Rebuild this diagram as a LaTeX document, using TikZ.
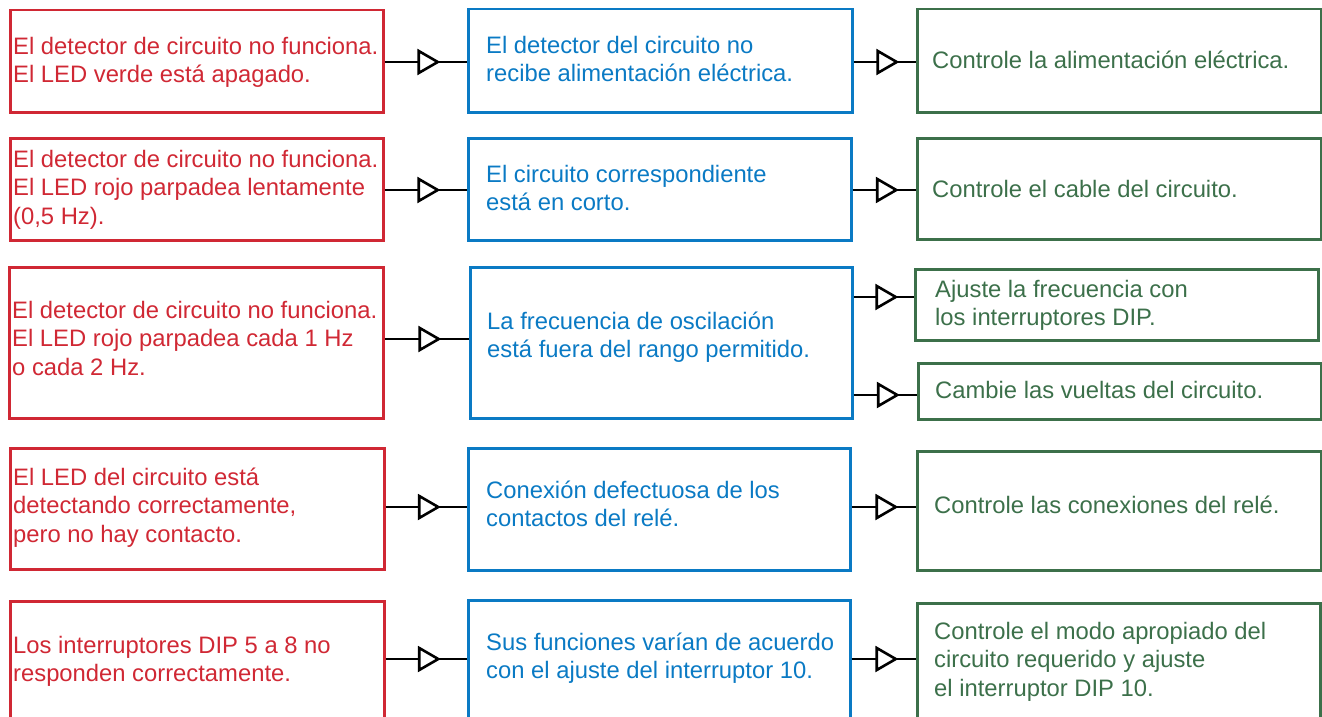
\documentclass[tikz,border=0pt]{standalone}
\usepackage{fontspec}
\setmainfont{Liberation Sans}
\usetikzlibrary{decorations.markings}
\definecolor{cred}{RGB}{208,40,52}
\definecolor{cblue}{RGB}{10,122,196}
\definecolor{cgreen}{RGB}{60,112,74}
\begin{document}
\begin{tikzpicture}[x=1pt,y=-1pt,
  box/.style={draw, line width=2.5pt, inner sep=0pt, anchor=north west},
  rbox/.style={box, draw=cred},
  bbox/.style={box, draw=cblue},
  gbox/.style={box, draw=cgreen},
  txt/.style={anchor=north west, inner sep=0pt, align=left, font=\fontsize{23.8}{28.5}\selectfont},
  conn/.style={line width=2.6pt, postaction={decorate},
    decoration={markings, mark=at position 0.5 with {\draw[line width=2.6pt, fill=white, line join=miter] (-7,-11) -- (12,0) -- (-7,11) -- cycle;}}}
]
\path[use as bounding box] (0,0) rectangle (1322,717);
\clip (0,0) rectangle (1322,717);

% red boxes
\node[rbox, minimum width=373pt, minimum height=102pt] (r1) at (9,9) {};
\node[rbox, minimum width=373pt, minimum height=102pt] (r2) at (9,137) {};
\node[rbox, minimum width=374pt, minimum height=151pt] (r3) at (8,266) {};
\node[rbox, minimum width=374pt, minimum height=121pt] (r4) at (9,447) {};
\node[rbox, minimum width=374pt, minimum height=140pt] (r5) at (9,600) {};
% blue boxes
\node[bbox, minimum width=384pt, minimum height=103pt] (b1) at (467,8) {};
\node[bbox, minimum width=383pt, minimum height=102pt] (b2) at (467,137) {};
\node[bbox, minimum width=382pt, minimum height=151pt] (b3) at (469,266) {};
\node[bbox, minimum width=382pt, minimum height=122pt] (b4) at (467,447) {};
\node[bbox, minimum width=382pt, minimum height=140pt] (b5) at (467,599) {};
% green boxes
\node[gbox, minimum width=404pt, minimum height=103pt] (g1) at (916,8) {};
\node[gbox, minimum width=404pt, minimum height=101pt] (g2) at (916,137) {};
\node[gbox, minimum width=403pt, minimum height=71pt] (g3a) at (914,268) {};
\node[gbox, minimum width=403pt, minimum height=56pt] (g3b) at (917,362) {};
\node[gbox, minimum width=404pt, minimum height=119pt] (g4) at (916,450) {};
\node[gbox, minimum width=403pt, minimum height=140pt] (g5) at (916,602) {};

% texts
\node[txt, text=cred] (r1t) at (13,34) {\strut El detector de circuito no funciona.\\El LED verde está apagado.};
\node[txt, text=cred] (r2t) at (13,147) {\strut El detector de circuito no funciona.\\El LED rojo parpadea lentamente\\(0,5 Hz).};
\node[txt, text=cred] (r3t) at (12,298) {\strut El detector de circuito no funciona.\\El LED rojo parpadea cada 1 Hz\\o cada 2 Hz.};
\node[txt, text=cred] (r4t) at (13,465) {\strut El LED del circuito está\\detectando correctamente,\\pero no hay contacto.};
\node[txt, text=cred] (r5t) at (13,633) {\strut Los interruptores DIP 5 a 8 no\\responden correctamente.};

\node[txt, text=cblue] (b1t) at (486,33) {\strut El detector del circuito no\\recibe alimentación eléctrica.};
\node[txt, text=cblue] (b2t) at (486,162) {\strut El circuito correspondiente\\está en corto.};
\node[txt, text=cblue] (b3t) at (487,309) {\strut La frecuencia de oscilación\\está fuera del rango permitido.};
\node[txt, text=cblue] (b4t) at (486,478) {\strut Conexión defectuosa de los\\contactos del relé.};
\node[txt, text=cblue] (b5t) at (486,630) {\strut Sus funciones varían de acuerdo\\con el ajuste del interruptor 10.};

\node[txt, text=cgreen] (g1t) at (932,48) {\strut Controle la alimentación eléctrica.};
\node[txt, text=cgreen] (g2t) at (932,177) {\strut Controle el cable del circuito.};
\node[txt, text=cgreen] (g3at) at (935,277) {\strut Ajuste la frecuencia con\\los interruptores DIP.};
\node[txt, text=cgreen] (g3bt) at (935,378) {\strut Cambie las vueltas del circuito.};
\node[txt, text=cgreen] (g4t) at (934,493) {\strut Controle las conexiones del relé.};
\node[txt, text=cgreen] (g5t) at (934,619) {\strut Controle el modo apropiado del\\circuito requerido y ajuste\\el interruptor DIP 10.};

% connector heights
\coordinate (y1) at (0,62);
\coordinate (y2) at (0,190);
\coordinate (y3) at (0,339);
\coordinate (y3a) at (0,297);
\coordinate (y3b) at (0,395);
\coordinate (y4) at (0,507);
\coordinate (y5) at (0,659);

\draw[conn] (r1.east |- y1) -- (b1.west |- y1);
\draw[conn] (b1.east |- y1) -- (g1.west |- y1);
\draw[conn] (r2.east |- y2) -- (b2.west |- y2);
\draw[conn] (b2.east |- y2) -- (g2.west |- y2);
\draw[conn] (r3.east |- y3) -- (b3.west |- y3);
\draw[conn] (b3.east |- y3a) -- (g3a.west |- y3a);
\draw[conn] (b3.east |- y3b) -- (g3b.west |- y3b);
\draw[conn] (r4.east |- y4) -- (b4.west |- y4);
\draw[conn] (b4.east |- y4) -- (g4.west |- y4);
\draw[conn] (r5.east |- y5) -- (b5.west |- y5);
\draw[conn] (b5.east |- y5) -- (g5.west |- y5);
\end{tikzpicture}
\end{document}
